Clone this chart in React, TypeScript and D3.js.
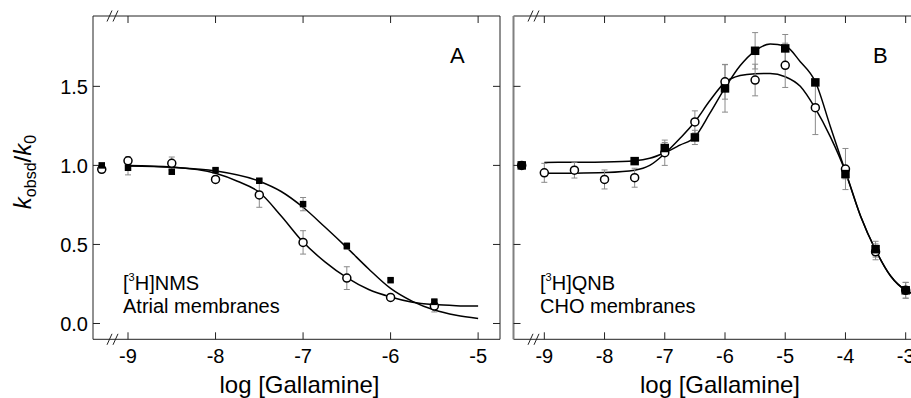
import React from "react";
import * as d3 from "d3";

// Panel A: [3H]NMS dissociation in atrial membranes
// control (no gallamine) is plotted left of the axis break at -9.3
const nmsSquareX = [-9.3, -9, -8.5, -8, -7.5, -7, -6.5, -6, -5.5];
const nmsSquareY = [1.0, 0.985, 0.96, 0.97, 0.903, 0.755, 0.49, 0.274, 0.137];
const nmsSquareErr = [0, 0.045, 0.01, 0.01, 0.01, 0.042, 0.02, 0.01, 0.02];
const nmsCircleX = [-9.3, -9, -8.5, -8, -7.5, -7, -6.5, -6, -5.5];
const nmsCircleY = [0.975, 1.029, 1.013, 0.911, 0.813, 0.513, 0.287, 0.165, 0.11];
const nmsCircleErr = [0, 0.025, 0.04, 0.01, 0.078, 0.074, 0.072, 0.01, 0.037];

// fitted curves, panel A
const nmsSquareFitX = [-9, -8.5, -8, -7.5, -7.25, -7, -6.75, -6.5, -6.25, -6, -5.75, -5.5, -5.25, -5];
const nmsSquareFitY = [0.996, 0.988, 0.965, 0.9, 0.835, 0.735, 0.61, 0.48, 0.345, 0.222, 0.14, 0.085, 0.052, 0.032];
const nmsCircleFitX = [-9, -8.5, -8, -7.75, -7.5, -7.25, -7, -6.75, -6.5, -6.25, -6, -5.75, -5.5, -5.25, -5];
const nmsCircleFitY = [1.0, 0.99, 0.95, 0.9, 0.83, 0.68, 0.515, 0.39, 0.29, 0.215, 0.168, 0.135, 0.12, 0.113, 0.11];

// Panel B: [3H]QNB dissociation in CHO membranes
const qnbSquareX = [-9.375, -7.5, -7, -6.5, -6, -5.5, -5, -4.5, -4, -3.5, -3];
const qnbSquareY = [1.0, 1.027, 1.11, 1.177, 1.487, 1.725, 1.74, 1.525, 0.945, 0.47, 0.21];
const qnbSquareErr = [0.01, 0.01, 0.035, 0.045, 0.15, 0.115, 0.088, 0.02, 0.03, 0.05, 0.05];
const qnbCircleX = [-9.375, -9, -8.5, -8, -7.5, -7, -6.5, -6, -5.5, -5, -4.5, -4, -3.5, -3];
const qnbCircleY = [1.0, 0.953, 0.97, 0.911, 0.922, 1.08, 1.275, 1.529, 1.54, 1.633, 1.365, 0.977, 0.453, 0.21];
const qnbCircleErr = [0, 0.06, 0.05, 0.06, 0.06, 0.08, 0.07, 0.11, 0.1, 0.14, 0.17, 0.13, 0.05, 0.05];

// fitted curves, panel B
const qnbSquareFitX = [-9, -8.5, -8, -7.5, -7.25, -7, -6.75, -6.5, -6.25, -6, -5.75, -5.5, -5.25, -5, -4.75, -4.5, -4.25, -4, -3.75, -3.5, -3.25, -3, -2.85];
const qnbSquareFitY = [1.019, 1.02, 1.022, 1.03, 1.045, 1.08, 1.128, 1.18, 1.33, 1.49, 1.63, 1.725, 1.768, 1.755, 1.656, 1.529, 1.245, 0.96, 0.68, 0.465, 0.3, 0.21, 0.185];
const qnbCircleFitX = [-9, -8.5, -8, -7.5, -7.25, -7, -6.75, -6.5, -6.25, -6, -5.75, -5.5, -5.25, -5, -4.75, -4.5, -4.25, -4, -3.75, -3.5, -3.25, -3, -2.85];
const qnbCircleFitY = [0.95, 0.951, 0.955, 0.97, 1.0, 1.075, 1.17, 1.276, 1.41, 1.525, 1.568, 1.58, 1.582, 1.561, 1.5, 1.36, 1.18, 0.96, 0.68, 0.465, 0.3, 0.21, 0.185];

const yTicks = [0, 0.5, 1.0, 1.5];
const xTicksA = [-9, -8, -7, -6, -5];
const xTicksB = [-9, -8, -7, -6, -5, -4, -3];

const W = 911;
const H = 398;
const TOP = 16;
const BOTTOM = 339.3;
const FONT = "'Liberation Sans', Arial, Helvetica, sans-serif";
const AXIS = "#222";
const ERR = "#8a8a8a";

const y = d3.scaleLinear().domain([-0.1, 1.945]).range([BOTTOM, TOP]);
const xA = d3.scaleLinear().domain([-9.4, -4.75]).range([93, 500]);
const xB = d3.scaleLinear().domain([-9.52, -2.5]).range([513, 935.8]);

type Scale = d3.ScaleLinear<number, number>;

function zip(xs: number[], ys: number[]): [number, number][] {
  return xs.map((v, i) => [v, ys[i]]);
}

function Curve({ x, xs, ys }: { x: Scale; xs: number[]; ys: number[] }) {
  const line = d3
    .line<[number, number]>()
    .x((d) => x(d[0]))
    .y((d) => y(d[1]))
    .curve(d3.curveMonotoneX);
  return <path d={line(zip(xs, ys)) || ""} fill="none" stroke="#000" strokeWidth={1.5} />;
}

function ErrorBars({ x, xs, ys, errs }: { x: Scale; xs: number[]; ys: number[]; errs: number[] }) {
  return (
    <g stroke={ERR} strokeWidth={1} fill="none">
      {xs.map((v, i) => {
        if (!errs[i]) return null;
        const cx = x(v);
        const y0 = y(ys[i] - errs[i]);
        const y1 = y(ys[i] + errs[i]);
        return (
          <g key={i}>
            <line x1={cx} x2={cx} y1={y0} y2={y1} />
            <line x1={cx - 3} x2={cx + 3} y1={y0} y2={y0} />
            <line x1={cx - 3} x2={cx + 3} y1={y1} y2={y1} />
          </g>
        );
      })}
    </g>
  );
}

function Squares({ x, xs, ys, size }: { x: Scale; xs: number[]; ys: number[]; size: number }) {
  return (
    <g fill="#000">
      {xs.map((v, i) => (
        <rect key={i} x={x(v) - size / 2} y={y(ys[i]) - size / 2} width={size} height={size} />
      ))}
    </g>
  );
}

function Circles({ x, xs, ys }: { x: Scale; xs: number[]; ys: number[] }) {
  return (
    <g fill="#fff" stroke="#000" strokeWidth={1.5}>
      {xs.map((v, i) => (
        <circle key={i} cx={x(v)} cy={y(ys[i])} r={4} />
      ))}
    </g>
  );
}

function BreakMarks({ x0 }: { x0: number }) {
  const marks = [TOP, BOTTOM];
  return (
    <g stroke={AXIS} strokeWidth={1}>
      {marks.map((yy, k) => (
        <g key={k}>
          <line x1={x0} y1={yy + 5.5} x2={x0 + 5} y2={yy - 5.5} />
          <line x1={x0 + 6} y1={yy + 5.5} x2={x0 + 11} y2={yy - 5.5} />
        </g>
      ))}
    </g>
  );
}

function Frame({
  x,
  ticks,
  left,
  right,
  leftStroke,
  leftWidth,
  showYLabels,
}: {
  x: Scale;
  ticks: number[];
  left: number;
  right: number;
  leftStroke: string;
  leftWidth: number;
  showYLabels: boolean;
}) {
  const tl = 7;
  return (
    <g>
      <line x1={left} x2={right} y1={TOP} y2={TOP} stroke={AXIS} strokeWidth={1} />
      <line x1={left} x2={right} y1={BOTTOM} y2={BOTTOM} stroke={AXIS} strokeWidth={1} />
      <line x1={right} x2={right} y1={TOP} y2={BOTTOM} stroke={AXIS} strokeWidth={1} />
      <line x1={left} x2={left} y1={TOP} y2={BOTTOM} stroke={leftStroke} strokeWidth={leftWidth} />
      {ticks.map((t) => (
        <g key={t}>
          <line x1={x(t)} x2={x(t)} y1={BOTTOM} y2={BOTTOM - tl} stroke={AXIS} />
          <line x1={x(t)} x2={x(t)} y1={TOP} y2={TOP + tl} stroke={AXIS} />
          <text
            x={x(t)}
            y={362.5}
            textAnchor="middle"
            fontSize={20}
            fontFamily={FONT}
            fill="#000"
          >
            {t}
          </text>
        </g>
      ))}
      {yTicks.map((t) => (
        <g key={t}>
          <line x1={left} x2={left + tl} y1={y(t)} y2={y(t)} stroke={AXIS} />
          <line x1={right} x2={right - tl} y1={y(t)} y2={y(t)} stroke={AXIS} />
          {showYLabels && (
            <text
              x={left - 5}
              y={y(t)}
              dy="0.36em"
              textAnchor="end"
              fontSize={20}
              fontFamily={FONT}
              fill="#000"
            >
              {d3.format(".1f")(t)}
            </text>
          )}
        </g>
      ))}
    </g>
  );
}

export default function App() {
  return (
    <svg
      width={W}
      height={H}
      viewBox={`0 0 ${W} ${H}`}
      style={{ position: "absolute", left: 0, top: 0, background: "#fff" }}
    >
      <rect width={W} height={H} fill="#fff" />

      {/* Panel A */}
      <Frame x={xA} ticks={xTicksA} left={93} right={500} leftStroke={AXIS} leftWidth={1} showYLabels={true} />
      <BreakMarks x0={107} />
      <Curve x={xA} xs={nmsSquareFitX} ys={nmsSquareFitY} />
      <Curve x={xA} xs={nmsCircleFitX} ys={nmsCircleFitY} />
      <ErrorBars x={xA} xs={nmsSquareX} ys={nmsSquareY} errs={nmsSquareErr} />
      <ErrorBars x={xA} xs={nmsCircleX} ys={nmsCircleY} errs={nmsCircleErr} />
      <Circles x={xA} xs={nmsCircleX} ys={nmsCircleY} />
      <Squares x={xA} xs={nmsSquareX} ys={nmsSquareY} size={6.5} />
      <text x={450} y={63} fontSize={22} fontFamily={FONT} fill="#000">A</text>
      <text x={123} y={290} fontSize={20} fontFamily={FONT} fill="#000">
        [<tspan fontSize={11} dy={-9}>3</tspan>
        <tspan dy={9}>H]NMS</tspan>
      </text>
      <text x={123} y={313} fontSize={20} fontFamily={FONT} fill="#000">Atrial membranes</text>
      <text x={299.5} y={393} textAnchor="middle" fontSize={24} fontFamily={FONT} fill="#000">
        log [Gallamine]
      </text>

      {/* Panel B */}
      <Frame x={xB} ticks={xTicksB} left={513.5} right={935.8} leftStroke="#808080" leftWidth={2} showYLabels={false} />
      <BreakMarks x0={528} />
      <Curve x={xB} xs={qnbSquareFitX} ys={qnbSquareFitY} />
      <Curve x={xB} xs={qnbCircleFitX} ys={qnbCircleFitY} />
      <ErrorBars x={xB} xs={qnbSquareX} ys={qnbSquareY} errs={qnbSquareErr} />
      <ErrorBars x={xB} xs={qnbCircleX} ys={qnbCircleY} errs={qnbCircleErr} />
      <Circles x={xB} xs={qnbCircleX} ys={qnbCircleY} />
      <Squares x={xB} xs={qnbSquareX} ys={qnbSquareY} size={8.5} />
      <text x={873} y={63} fontSize={22} fontFamily={FONT} fill="#000">B</text>
      <text x={540} y={290} fontSize={20} fontFamily={FONT} fill="#000">
        [<tspan fontSize={11} dy={-9}>3</tspan>
        <tspan dy={9}>H]QNB</tspan>
      </text>
      <text x={540} y={313} fontSize={20} fontFamily={FONT} fill="#000">CHO membranes</text>
      <text x={720} y={393} textAnchor="middle" fontSize={24} fontFamily={FONT} fill="#000">
        log [Gallamine]
      </text>

      {/* y-axis title */}
      <text
        transform="translate(31,172) rotate(-90)"
        textAnchor="middle"
        fontSize={24}
        fontFamily={FONT}
        fill="#000"
      >
        <tspan fontStyle="italic">k</tspan>
        <tspan fontSize={16} dy={5}>obsd</tspan>
        <tspan dy={-5}>/</tspan>
        <tspan fontStyle="italic">k</tspan>
        <tspan fontSize={16} dy={5}>0</tspan>
      </text>
    </svg>
  );
}
